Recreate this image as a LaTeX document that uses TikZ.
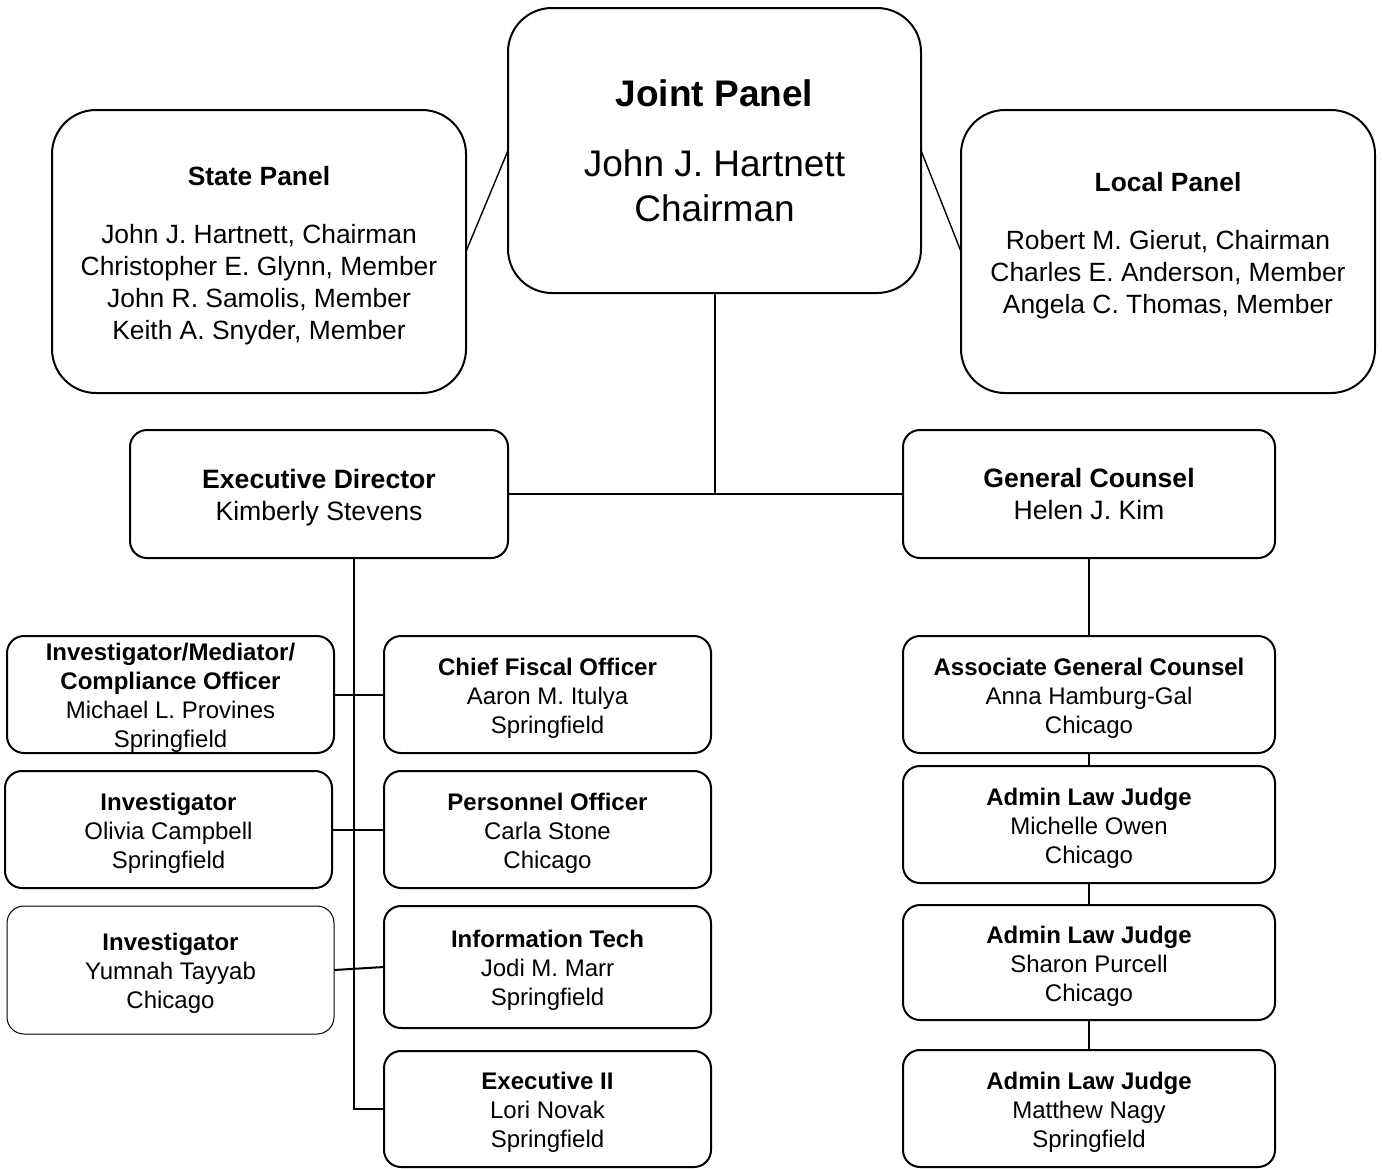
\documentclass[tikz,border=0pt]{standalone}
\usepackage{fontspec}
\setmainfont{Liberation Sans}
\usepackage{tikz}
\usetikzlibrary{positioning}

\newcommand{\ustrut}{\rule{0pt}{12.2pt}}

\tikzset{
  unit/.style={draw, line width=1pt, rounded corners=8.5pt, align=center,
    inner sep=0pt, outer sep=0pt, minimum width=163.5pt, minimum height=58.5pt,
    font=\fontsize{12}{14.5}\selectfont},
  wideunit/.style={unit, minimum width=186pt},
  panel/.style={draw, line width=1pt, rounded corners=22pt, align=center,
    inner sep=0pt, outer sep=0pt, minimum width=207pt, minimum height=141.5pt,
    font=\fontsize{13.2}{16}\selectfont},
  link/.style={line width=1pt},
  thinlink/.style={line width=0.7pt}
}

\begin{document}
\begin{tikzpicture}[x=0.5pt, y=-0.5pt]
  \useasboundingbox (0,0) rectangle (1382,1168);

  % panels
  \node[panel, minimum width=206.5pt, minimum height=142.5pt,
        font=\fontsize{18.5}{22.5}\selectfont] (joint) at (714.5,150.5)
    {\textbf{Joint Panel}\\[12.5pt] John J. Hartnett\\ Chairman};
  \node[panel] (state) at (259,251.5)
    {\rule{0pt}{13.6pt}\textbf{State Panel}\\[13pt] John J. Hartnett, Chairman\\ Christopher E. Glynn, Member\\
     John R. Samolis, Member\\ Keith A. Snyder, Member};
  \node[panel] (local) at (1168,251.5)
    {\textbf{Local Panel}\\[13pt] Robert M. Gierut, Chairman\\ Charles E. Anderson, Member\\
     Angela C. Thomas, Member\rule[-8.8pt]{0pt}{8.8pt}};

  % directors
  \node[unit, minimum width=189pt, minimum height=64pt,
        font=\fontsize{13.3}{16}\selectfont] (exec) at (319,494)
    {\rule{0pt}{13.4pt}\textbf{Executive Director}\\ Kimberly Stevens};
  \node[unit, minimum width=186pt, minimum height=64pt,
        font=\fontsize{13.3}{16}\selectfont] (gc) at (1089,494)
    {\textbf{General Counsel}\\ Helen J. Kim};

  % left column
  \node[unit] (inv1) at (170.5,694.5)
    {\ustrut\textbf{Investigator/Mediator/}\\ \textbf{Compliance Officer}\\ Michael L. Provines\\ Springfield};
  \node[unit] (inv2) at (168.5,829.5)
    {\ustrut\textbf{Investigator}\\ Olivia Campbell\\ Springfield};
  \node[unit, line width=0.5pt, minimum height=64pt] (inv3) at (170.5,970)
    {\ustrut\textbf{Investigator}\\ Yumnah Tayyab\\ Chicago};

  % middle column
  \node[unit] (cfo) at (547.5,694.5)
    {\ustrut\textbf{Chief Fiscal Officer}\\ Aaron M. Itulya\\ Springfield};
  \node[unit] (po) at (547.5,829.5)
    {\ustrut\textbf{Personnel Officer}\\ Carla Stone\\ Chicago};
  \node[unit, minimum height=61pt] (it) at (547.5,967)
    {\ustrut\textbf{Information Tech}\\ Jodi M. Marr\\ Springfield};
  \node[unit, minimum height=58pt] (ex2) at (547.5,1109)
    {\ustrut\textbf{Executive II}\\ Lori Novak\\ Springfield};

  % right column
  \node[wideunit] (agc) at (1089,694.5)
    {\ustrut\textbf{Associate General Counsel}\\ Anna Hamburg-Gal\\ Chicago};
  \node[wideunit] (alj1) at (1089,824.5)
    {\ustrut\textbf{Admin Law Judge}\\ Michelle Owen\\ Chicago};
  \node[wideunit, minimum height=57.5pt] (alj2) at (1089,962.5)
    {\ustrut\textbf{Admin Law Judge}\\ Sharon Purcell\\ Chicago};
  \node[wideunit] (alj3) at (1089,1108.5)
    {\ustrut\textbf{Admin Law Judge}\\ Matthew Nagy\\ Springfield};

  % connectors
  \draw[thinlink] (state.east) -- (joint.west);
  \draw[thinlink] (joint.east) -- (local.west);
  \draw[link] (joint.south) -- (joint.south |- exec.east);
  \draw[link] (exec.east) -- (gc.west);

  \coordinate (spine) at ([xshift=17.5pt]exec.south);
  \draw[link] (spine) |- (ex2.west);
  \draw[link] (inv1.east) -- (cfo.west);
  \draw[link] (inv2.east) -- (po.west);
  \draw[link] (inv3.east) -- (it.west);

  \draw[link] (gc.south) -- (agc.north);
  \draw[link] (agc.south) -- (alj1.north);
  \draw[link] (alj1.south) -- (alj2.north);
  \draw[link] (alj2.south) -- (alj3.north);
\end{tikzpicture}
\end{document}
